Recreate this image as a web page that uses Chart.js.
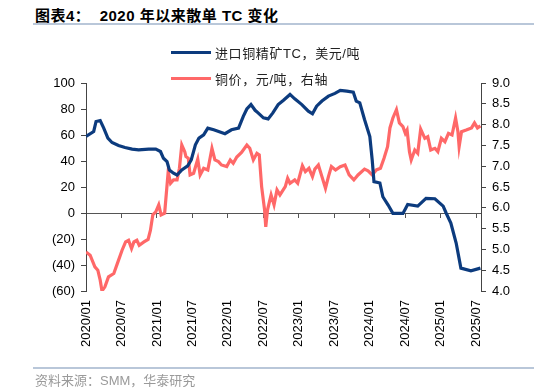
<!DOCTYPE html>
<html>
<head>
<meta charset="utf-8">
<script src="https://cdn.jsdelivr.net/npm/chart.js@4.4.0/dist/chart.umd.min.js"></script>
<style>
  body { margin: 0; background: #fff; }
  #wrap { position: relative; width: 534px; height: 392px; overflow: hidden; }
  #chart { position: absolute; left: 0; top: 0; }
  #title { position: absolute; left: 35px; top: 4px; font: bold 15px "Liberation Sans", Arial, "Noto Sans CJK SC"; color: #000; white-space: pre; letter-spacing: 0.5px; }
  .rule { position: absolute; left: 33px; right: 0; height: 2px; background: #b9c7d9; }
  #source { position: absolute; left: 35px; top: 370px; font: 13px "Liberation Sans", Arial, "Noto Sans CJK SC"; color: #9a9a9a; }
  #legend { position: absolute; left: 171px; top: 43px; font: 13px "Liberation Sans", Arial, "Noto Sans CJK SC"; color: #222; letter-spacing: 0.6px; }
  .item { display: flex; align-items: center; height: 19px; margin-bottom: 7px; }
  .swatch { width: 40px; height: 3px; margin-right: 4px; }
</style>
</head>
<body>
<div id="wrap">
  <div id="title">图表4：  2020 年以来散单 TC 变化</div>
  <div class="rule" style="top:23px"></div>
  <canvas id="chart" width="534" height="392"></canvas>
  <div id="legend"></div>
  <div class="rule" style="top:367px"></div>
  <div id="source">资料来源：SMM，华泰研究</div>
</div>
<script>
// 月份序号：0 = 2020/01
const tcMonths = [0,1.3,1.7,2.4,3.0,3.7,4.4,5.5,6.6,7.8,8.9,10.6,11.8,12.6,13.1,13.7,14.1,14.8,15.4,16.2,17.2,17.8,18.5,19.1,19.9,20.6,21.6,23.5,24.6,25.8,26.6,27.2,27.9,28.6,29.1,30.0,30.8,31.6,32.5,33.4,34.5,35.3,36.5,37.6,38.3,39.0,39.9,41.0,42.1,43.0,44.1,45.2,45.7,46.3,47.1,48.0,48.4,48.7,49.7,50.2,51.1,51.9,53.6,54.4,56.1,57.5,59.0,60.4,60.9,61.7,62.6,63.4,65.1,66.7];
const tcValues = [58.9,62.7,70.4,71.1,65.3,57.6,54.2,51.9,50.4,49.1,48.6,49.1,49.1,47.3,42.1,39.5,33.1,30.6,29.2,33.1,36.2,40.8,52.4,57.6,60.1,65.3,64,61,64,65.3,74.3,80,83.4,79,77,73.2,72.4,77,83.4,86.8,91.2,87.8,83.4,78.3,76.3,82.2,86.1,89.9,92,94.3,93.8,93,86.1,84.8,71.9,58.8,40.8,24.1,23.1,12.5,6.1,-0.3,-0.3,6.6,5.3,11.3,11,5.3,0,-7.7,-23.1,-42.4,-44.5,-42.4];

const cuMonths = [0,0.7,1.5,2.0,2.4,2.7,3.2,3.8,4.7,5.4,6.1,6.7,7.2,7.7,8.1,8.6,9.0,9.8,10.5,10.9,11.3,11.8,12.3,12.7,13.3,13.9,14.3,14.8,15.4,15.8,16.2,16.7,16.9,17.3,17.6,18.2,18.9,19.3,19.9,20.6,21.3,21.8,22.4,22.9,23.8,24.4,24.9,25.5,26.3,27.2,27.7,28.3,28.9,29.3,29.7,30.2,30.4,30.7,31.3,31.8,32.3,32.8,33.7,34.1,34.5,35.3,35.8,36.6,37.1,37.7,38.3,38.7,39.3,39.9,40.5,41.0,41.5,42.2,43.0,43.8,44.5,45.3,46.0,47.1,47.7,48.4,49.1,49.8,50.4,51.0,51.4,51.9,52.5,53.0,53.6,54.0,54.3,54.7,55.0,55.6,56.1,56.6,57.3,57.8,58.3,59.0,59.5,60.1,60.7,61.3,61.9,62.5,62.9,63.1,63.5,64.3,65.2,65.7,66.2,66.7];
const cuValues = [4.94,4.86,4.58,4.50,4.26,4.0,4.1,4.34,4.42,4.70,4.98,5.18,5.22,5.02,5.18,5.22,5.10,5.18,5.24,5.46,5.83,5.9,6.07,5.83,5.87,6.87,6.59,6.67,6.67,6.95,7.51,7.35,7.23,7.19,6.79,6.83,7.17,6.79,6.95,6.91,7.43,7.15,7.11,7.03,6.99,7.15,7.07,7.22,7.33,7.51,7.43,7.15,7.31,7.27,6.51,5.95,5.54,5.95,6.31,6.07,6.43,6.31,6.51,6.71,6.59,6.67,6.59,7.01,6.87,6.95,6.75,6.93,7.03,6.75,6.47,6.75,6.99,6.91,6.99,7.03,6.79,6.67,6.79,6.93,6.89,6.79,6.91,6.95,7.19,7.47,7.92,8.16,8.36,8.04,7.95,7.79,7.87,7.35,7.15,7.39,7.31,7.89,7.67,7.71,7.39,7.43,7.35,7.67,7.59,7.79,7.75,8.16,7.83,7.47,7.83,7.87,7.92,8.04,7.92,7.97];

const seriesNames = ['进口铜精矿TC，美元/吨', '铜价，元/吨，右轴'];
const seriesColors = ['#0c3b7e', '#ff6868'];

function toPoints(xs, ys) {
  return xs.map((x, i) => ({ x: x, y: ys[i] }));
}

function monthLabel(v) {
  const y = 2020 + Math.floor(v / 12);
  const m = (v % 12) + 1;
  return y + '/' + (m < 10 ? '0' + m : m);
}

const tickFont = { family: '"Liberation Sans", Arial', size: 13 };

// 图例
const legend = document.getElementById('legend');
seriesNames.forEach((name, i) => {
  legend.innerHTML += '<div class="item"><span class="swatch" style="background:' + seriesColors[i] + '"></span><span>' + name + '</span></div>';
});

new Chart(document.getElementById('chart'), {
  type: 'line',
  data: {
    datasets: [
      {
        label: seriesNames[0],
        data: toPoints(tcMonths, tcValues),
        borderColor: seriesColors[0],
        borderWidth: 3.2,
        pointRadius: 0,
        xAxisID: 'x',
        yAxisID: 'y',
      },
      {
        label: seriesNames[1],
        data: toPoints(cuMonths, cuValues),
        borderColor: seriesColors[1],
        borderWidth: 3.2,
        pointRadius: 0,
        xAxisID: 'x',
        yAxisID: 'y2',
      },
    ],
  },
  options: {
    responsive: false,
    animation: false,
    layout: { padding: { top: 83, left: 0, right: 0, bottom: 0 } },
    plugins: { legend: { display: false }, tooltip: { enabled: false } },
    scales: {
      x: {
        type: 'linear',
        axis: 'x',
        position: { y: 0 },
        min: 0,
        max: 66.8,
        ticks: { display: false, stepSize: 6, includeBounds: false },
        grid: { drawOnChartArea: false, drawTicks: true, tickLength: 4, color: '#555' },
        border: { color: '#555' },
      },
      xl: {
        type: 'linear',
        axis: 'x',
        position: 'bottom',
        min: 0,
        max: 66.8,
        ticks: {
          stepSize: 6,
          includeBounds: false,
          autoSkip: false,
          maxRotation: 90,
          minRotation: 90,
          padding: 9,
          color: '#000',
          font: tickFont,
          callback: (v) => monthLabel(v),
        },
        grid: { display: false, drawTicks: false },
        border: { display: false },
        afterFit: (scale) => { scale.height = 101; },
      },
      y: {
        position: 'left',
        min: -60,
        max: 100,
        ticks: {
          stepSize: 20,
          autoSkip: false,
          padding: 6,
          color: '#000',
          font: tickFont,
          callback: (v) => (v < 0 ? '(' + (-v) + ')' : v),
        },
        grid: { drawOnChartArea: false, tickLength: 5, color: '#444' },
        border: { color: '#444' },
        afterFit: (scale) => { scale.width = 86; },
      },
      y2: {
        position: 'right',
        min: 4,
        max: 9,
        ticks: {
          stepSize: 0.5,
          autoSkip: false,
          padding: 6,
          color: '#000',
          font: tickFont,
          callback: (v) => v.toFixed(1),
        },
        grid: { drawOnChartArea: false, tickLength: 5, color: '#444' },
        border: { color: '#444' },
        afterFit: (scale) => { scale.width = 53; },
      },
    },
  },
});
</script>
</body>
</html>
